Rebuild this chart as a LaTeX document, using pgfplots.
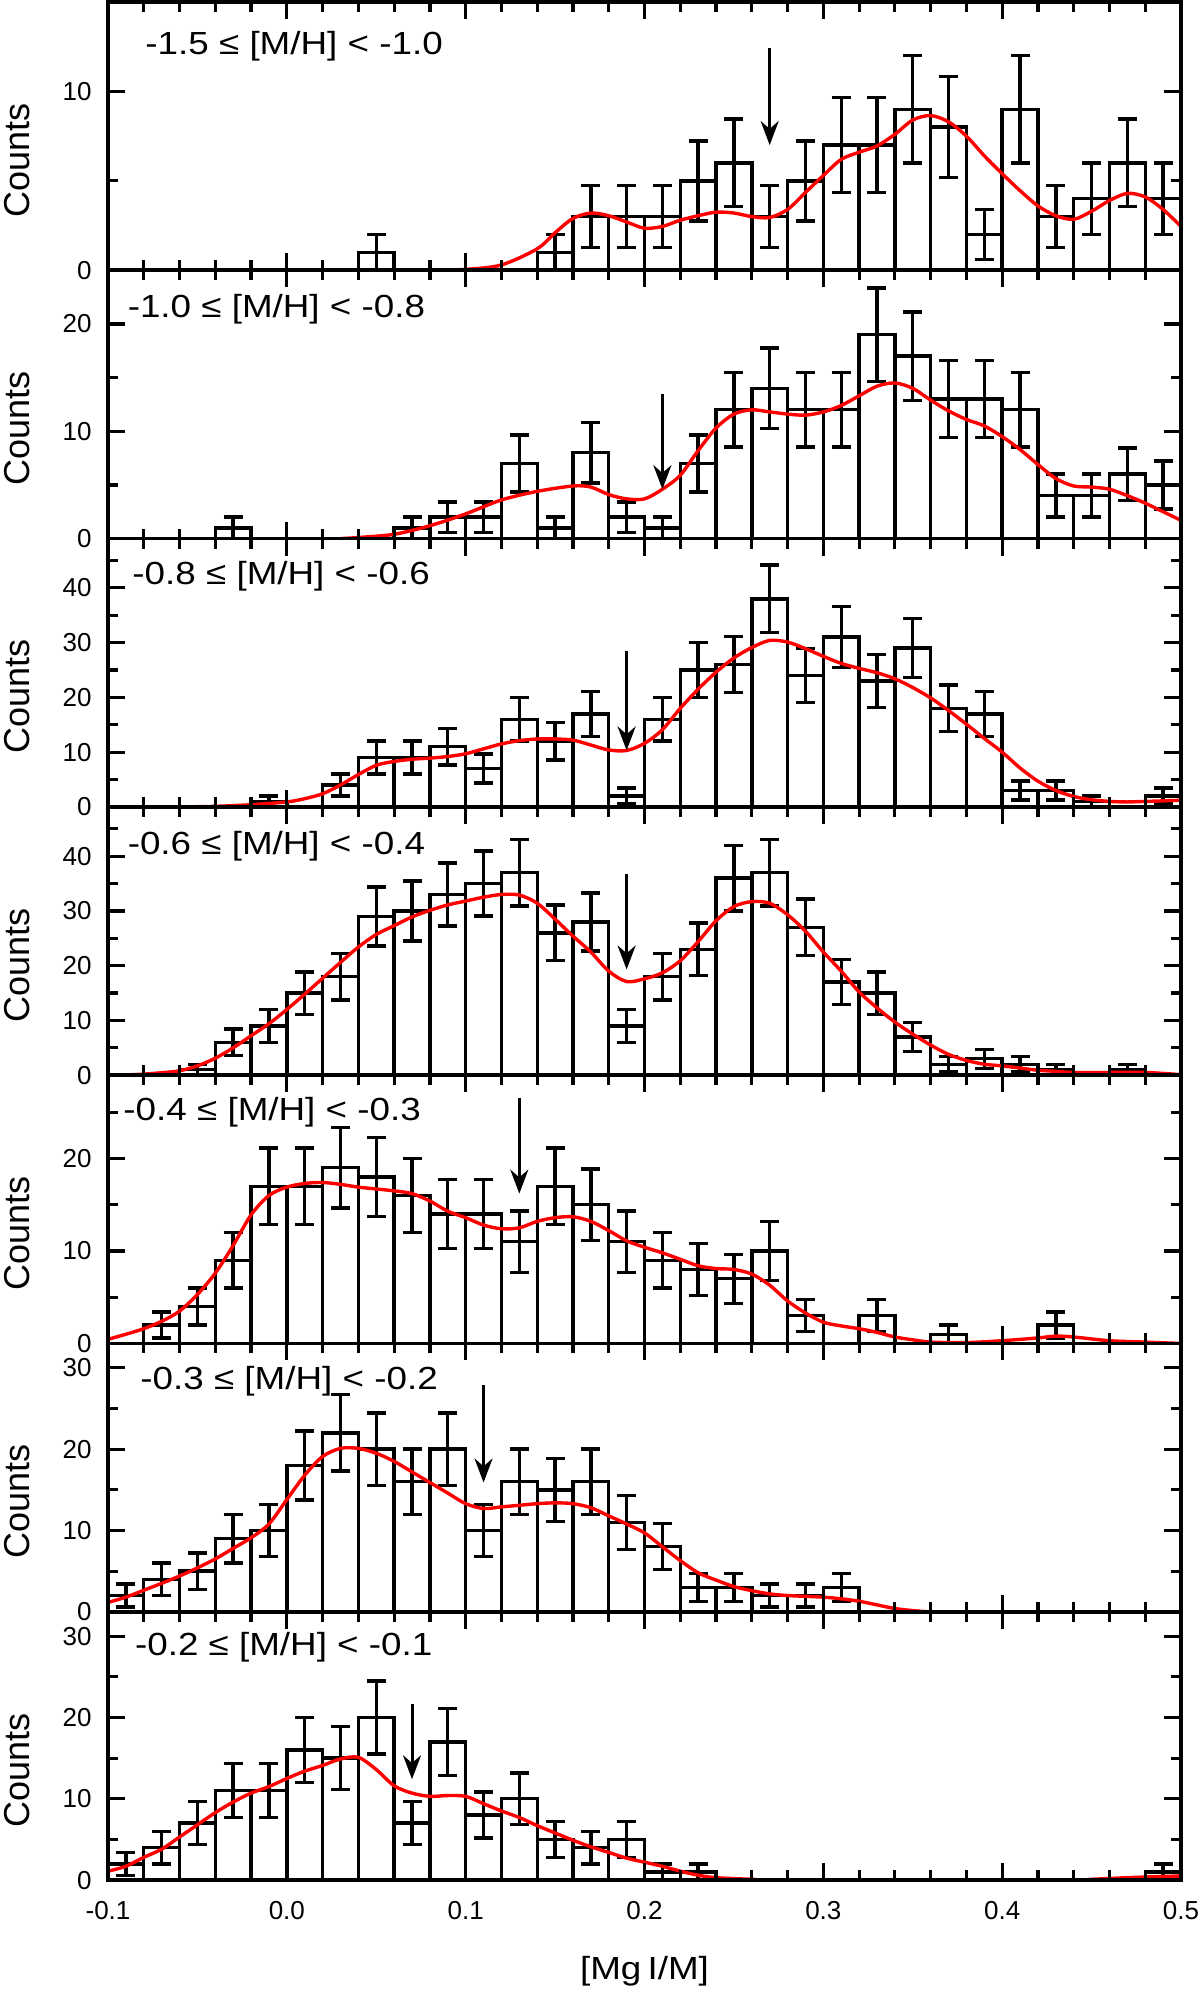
\documentclass[border=0pt]{standalone}
\usepackage{fontspec}
\setmainfont{Liberation Sans}
\usepackage{pgfplots}
\usepackage{pgfplotstable}
\pgfplotsset{compat=1.18}
\usetikzlibrary{arrows.meta}

\pgfplotsset{
  panel/.style={
    scale only axis, width=536.5pt, height=134.15pt,
    anchor=south west,
    xmin=-0.1, xmax=0.5, ymin=0,
    xtick={-0.1,0,0.1,0.2,0.3,0.4,0.5},
    minor x tick num=4,
    xticklabels={},
    axis on top,
    axis line style={line width=1.8pt},
    tick style={black, line width=1.6pt},
    major tick length=8.5pt, minor tick length=5pt,
    tick label style={font=\fontsize{13}{15}\selectfont},
    yticklabel style={xshift=-4.7pt},
    xticklabel style={yshift=-6.9pt},
    /pgf/number format/assume math mode=true,
    ylabel={Counts},
    ylabel style={at={(axis description cs:-0.0848,0.41)}, anchor=center,
      font=\fontsize{18}{21}\selectfont},
  },
  histbars/.style={ybar, bar width=0.02, bar shift=0pt, draw=black, fill=none,
    line width=1.7pt,
    error bars/.cd, y dir=both, y explicit,
    error bar style={line width=1.7pt, black},
    error mark options={rotate=90, black, line width=1.7pt, mark size=4.75pt}},
  kde/.style={red, line width=1.7pt, smooth, mark=none},
  arr/.style={black, line width=1.5pt, -{Stealth[length=12pt,width=9pt]}},
}
\tikzset{
  lab/.style={anchor=base west, inner sep=0pt, xscale=1.15,
    font=\fontsize{16}{19}\selectfont},
}

% histogram bins: centre, count, sqrt(count)
\pgfplotstableread{
c n e
0.05 1 1
0.15 1 1
0.17 3 1.732
0.19 3 1.732
0.21 3 1.732
0.23 5 2.236
0.25 6 2.449
0.27 3 1.732
0.29 5 2.236
0.31 7 2.646
0.33 7 2.646
0.35 9 3
0.37 8 2.828
0.39 2 1.414
0.41 9 3
0.43 3 1.732
0.45 4 2
0.47 6 2.449
0.49 4 2
}\hA
\pgfplotstableread{
c n e
-0.03 1 1
0.07 1 1
0.09 2 1.414
0.11 2 1.414
0.13 7 2.646
0.15 1 1
0.17 8 2.828
0.19 2 1.414
0.21 1 1
0.23 7 2.646
0.25 12 3.464
0.27 14 3.742
0.29 12 3.464
0.31 12 3.464
0.33 19 4.359
0.35 17 4.123
0.37 13 3.606
0.39 13 3.606
0.41 12 3.464
0.43 4 2
0.45 4 2
0.47 6 2.449
0.49 5 2.236
}\hB
\pgfplotstableread{
c n e
-0.01 1 1
0.03 4 2
0.05 9 3
0.07 9 3
0.09 11 3.317
0.11 7 2.646
0.13 16 4
0.15 12 3.464
0.17 17 4.123
0.19 2 1.414
0.21 16 4
0.23 25 5
0.25 26 5.099
0.27 38 6.164
0.29 24 4.899
0.31 31 5.568
0.33 23 4.796
0.35 29 5.385
0.37 18 4.243
0.39 17 4.123
0.41 3 1.732
0.43 3 1.732
0.45 1 1
0.49 2 1.414
}\hC
\pgfplotstableread{
c n e
-0.05 1 1
-0.03 6 2.449
-0.01 9 3
0.01 15 3.873
0.03 18 4.243
0.05 29 5.385
0.07 30 5.477
0.09 33 5.745
0.11 35 5.916
0.13 37 6.083
0.15 26 5.099
0.17 28 5.292
0.19 9 3
0.21 18 4.243
0.23 23 4.796
0.25 36 6
0.27 37 6.083
0.29 27 5.196
0.31 17 4.123
0.33 15 3.873
0.35 7 2.646
0.37 2 1.414
0.39 3 1.732
0.41 2 1.414
0.43 1 1
0.47 1 1
}\hD
\pgfplotstableread{
c n e
-0.07 2 1.414
-0.05 4 2
-0.03 9 3
-0.01 17 4.123
0.01 17 4.123
0.03 19 4.359
0.05 18 4.243
0.07 16 4
0.09 14 3.742
0.11 14 3.742
0.13 11 3.317
0.15 17 4.123
0.17 15 3.873
0.19 11 3.317
0.21 9 3
0.23 8 2.828
0.25 7 2.646
0.27 10 3.162
0.29 3 1.732
0.33 3 1.732
0.37 1 1
0.43 2 1.414
}\hE
\pgfplotstableread{
c n e
-0.09 2 1.414
-0.07 4 2
-0.05 5 2.236
-0.03 9 3
-0.01 10 3.162
0.01 18 4.243
0.03 22 4.690
0.05 20 4.472
0.07 16 4
0.09 20 4.472
0.11 10 3.162
0.13 16 4
0.15 15 3.873
0.17 16 4
0.19 11 3.317
0.21 8 2.828
0.23 3 1.732
0.25 3 1.732
0.27 2 1.414
0.29 2 1.414
0.31 3 1.732
}\hF
\pgfplotstableread{
c n e
-0.09 2 1.414
-0.07 4 2
-0.05 7 2.646
-0.03 11 3.317
-0.01 11 3.317
0.01 16 4
0.03 15 3.873
0.05 20 4.472
0.07 7 2.646
0.09 17 4.123
0.11 8 2.828
0.13 10 3.162
0.15 5 2.236
0.17 4 2
0.19 5 2.236
0.21 1 1
0.23 1 1
0.49 1 1
}\hG

\begin{document}
\begin{tikzpicture}
\path[use as bounding box] (0,0) rectangle (600pt,996pt);

% panel 1
\begin{axis}[panel, at={(54pt,860.85pt)}, ymax=15, ytick={0,10}, minor ytick={5}]
  \addplot[histbars] table[x=c, y=n, y error=e] {\hA};
  \addplot[kde] coordinates {
    (0.08,0) (0.10,0.05) (0.12,0.3) (0.14,1.2) (0.15,2.1) (0.16,2.9) (0.17,3.2)
    (0.18,3.05) (0.19,2.7) (0.20,2.35) (0.21,2.45) (0.22,2.8) (0.23,3.05)
    (0.24,3.25) (0.25,3.2) (0.26,3.0) (0.27,2.95) (0.28,3.4) (0.29,4.35)
    (0.30,5.3) (0.31,6.2) (0.32,6.6) (0.33,6.95) (0.34,7.6) (0.35,8.4)
    (0.36,8.65) (0.37,8.3) (0.38,7.5) (0.39,6.4) (0.40,5.4) (0.41,4.45)
    (0.42,3.6) (0.43,3.05) (0.44,2.85) (0.45,3.3) (0.46,3.9) (0.47,4.3)
    (0.48,4.1) (0.49,3.4) (0.50,2.45)};
  \addplot[arr] coordinates {(0.27,12.4) (0.27,7.0)};
  \node[lab] at (axis description cs:0.0345,0.8025) {-1.5 ≤ [M/H] < -1.0};
\end{axis}

% panel 2
\begin{axis}[panel, at={(54pt,726.7pt)}, ymax=25, ytick={0,10,20}, minor ytick={5,15}]
  \addplot[histbars] table[x=c, y=n, y error=e] {\hB};
  \addplot[kde] coordinates {
    (0.03,0) (0.04,0.1) (0.06,0.4) (0.08,1.2) (0.10,2.3) (0.12,3.6) (0.14,4.4)
    (0.16,4.9) (0.17,4.8) (0.18,4.1) (0.19,3.7) (0.20,3.7) (0.21,4.6)
    (0.22,5.9) (0.23,8.2) (0.24,10.3) (0.25,11.6) (0.26,12.0) (0.27,11.8)
    (0.28,11.6) (0.29,11.5) (0.30,11.8) (0.31,12.4) (0.32,13.3) (0.33,14.2)
    (0.34,14.5) (0.35,14.0) (0.36,12.9) (0.37,11.9) (0.38,11.1) (0.39,10.5)
    (0.40,9.5) (0.41,8.3) (0.42,6.9) (0.43,5.6) (0.44,4.9) (0.45,4.8)
    (0.46,4.6) (0.47,4.0) (0.48,3.3) (0.49,2.5) (0.50,1.7)};
  \addplot[arr] coordinates {(0.21,13.5) (0.21,4.6)};
  \node[lab] at (axis description cs:0.018,0.825) {-1.0 ≤ [M/H] < -0.8};
\end{axis}

% panel 3
\begin{axis}[panel, at={(54pt,592.55pt)}, ymax=49, ytick={0,10,20,30,40},
    minor ytick={5,15,25,35,45}]
  \addplot[histbars] table[x=c, y=n, y error=e] {\hC};
  \addplot[kde] coordinates {
    (-0.06,0) (-0.04,0.1) (-0.02,0.4) (0.00,0.9) (0.01,1.5) (0.02,2.4)
    (0.03,4.0) (0.04,5.9) (0.05,7.6) (0.06,8.3) (0.07,8.7) (0.08,8.9)
    (0.09,9.2) (0.10,9.7) (0.11,10.6) (0.12,11.5) (0.13,12.1) (0.14,12.4)
    (0.15,12.4) (0.16,12.2) (0.17,11.3) (0.18,10.4) (0.19,10.3) (0.20,11.6)
    (0.21,14.1) (0.22,18.0) (0.23,21.5) (0.24,24.6) (0.25,27.2) (0.26,29.1)
    (0.27,30.4) (0.28,30.1) (0.29,28.9) (0.30,27.5) (0.31,26.2) (0.32,25.3)
    (0.33,24.5) (0.34,23.4) (0.35,21.8) (0.36,19.9) (0.37,17.6) (0.38,15.1)
    (0.39,12.5) (0.40,10.0) (0.41,7.1) (0.42,4.7) (0.43,3.0) (0.44,1.9)
    (0.45,1.3) (0.46,1.0) (0.47,0.9) (0.48,1.0) (0.49,1.1) (0.50,1.2)};
  \addplot[arr] coordinates {(0.19,28.5) (0.19,10.3)};
  \node[lab] at (axis description cs:0.0224,0.8286) {-0.8 ≤ [M/H] < -0.6};
\end{axis}

% panel 4
\begin{axis}[panel, at={(54pt,458.4pt)}, ymax=49, ytick={0,10,20,30,40},
    minor ytick={5,15,25,35,45}]
  \addplot[histbars] table[x=c, y=n, y error=e] {\hD};
  \addplot[kde] coordinates {
    (-0.10,0) (-0.09,0.05) (-0.08,0.2) (-0.07,0.45) (-0.06,0.8) (-0.05,1.7)
    (-0.04,3.1) (-0.03,5.0) (-0.02,7.2) (-0.01,9.4) (0.00,12.0) (0.01,14.8)
    (0.02,17.7) (0.03,20.6) (0.04,23.4) (0.05,25.7) (0.06,27.3) (0.07,28.9)
    (0.08,30.1) (0.09,31.1) (0.10,31.8) (0.11,32.5) (0.12,33.0) (0.13,32.9)
    (0.14,31.4) (0.15,28.5) (0.16,25.4) (0.17,22.5) (0.18,19.0) (0.19,17.1)
    (0.20,17.6) (0.21,18.7) (0.22,20.9) (0.23,24.4) (0.24,28.2) (0.25,30.8)
    (0.26,31.7) (0.27,31.4) (0.28,29.3) (0.29,26.3) (0.30,22.5) (0.31,19.0)
    (0.32,15.2) (0.33,12.3) (0.34,9.7) (0.35,7.5) (0.36,5.5) (0.37,3.8)
    (0.38,2.7) (0.39,2.0) (0.40,1.7) (0.41,1.3) (0.42,0.9) (0.43,0.7)
    (0.44,0.5) (0.46,0.5) (0.48,0.5) (0.50,0.1)};
  \addplot[arr] coordinates {(0.19,36.8) (0.19,19.3)};
  \node[lab] at (axis description cs:0.018,0.8233) {-0.6 ≤ [M/H] < -0.4};
\end{axis}

% panel 5
\begin{axis}[panel, at={(54pt,324.25pt)}, ymax=29, ytick={0,10,20}, minor ytick={5,15,25}]
  \addplot[histbars] table[x=c, y=n, y error=e] {\hE};
  \addplot[kde] coordinates {
    (-0.10,0.45) (-0.09,1.0) (-0.08,1.6) (-0.07,2.4) (-0.06,3.5) (-0.05,5.3)
    (-0.04,7.6) (-0.03,10.6) (-0.02,13.9) (-0.01,16.0) (0.00,16.9) (0.01,17.3)
    (0.02,17.4) (0.03,17.2) (0.04,16.9) (0.05,16.7) (0.06,16.5) (0.07,16.2)
    (0.08,15.4) (0.09,14.3) (0.10,13.6) (0.11,12.8) (0.12,12.4) (0.13,12.5)
    (0.14,13.2) (0.15,13.6) (0.16,13.7) (0.17,13.2) (0.18,12.2) (0.19,11.1)
    (0.20,10.4) (0.21,9.8) (0.22,9.1) (0.23,8.4) (0.24,8.1) (0.25,8.0)
    (0.26,7.5) (0.27,6.3) (0.28,4.6) (0.29,3.3) (0.30,2.3) (0.31,1.9)
    (0.32,1.6) (0.33,1.2) (0.34,0.7) (0.35,0.4) (0.36,0.15) (0.38,0.1)
    (0.40,0.3) (0.42,0.6) (0.43,0.8) (0.44,0.7) (0.46,0.3) (0.48,0.15) (0.50,0)};
  \addplot[arr] coordinates {(0.13,26.5) (0.13,16.2)};
  \node[lab] at (axis description cs:0.014,0.832) {-0.4 ≤ [M/H] < -0.3};
\end{axis}

% panel 6
\begin{axis}[panel, at={(54pt,190.1pt)}, ymax=33, ytick={0,10,20,30}, minor ytick={5,15,25}]
  \addplot[histbars] table[x=c, y=n, y error=e] {\hF};
  \addplot[kde] coordinates {
    (-0.10,1.15) (-0.09,1.8) (-0.08,2.65) (-0.07,3.5) (-0.06,4.4) (-0.05,5.4)
    (-0.04,6.5) (-0.03,7.8) (-0.02,9.1) (-0.01,10.8) (0.00,13.8) (0.01,16.8)
    (0.02,19.1) (0.03,20.1) (0.04,20.1) (0.05,19.5) (0.06,18.5) (0.07,17.2)
    (0.08,15.9) (0.09,14.6) (0.10,13.3) (0.11,12.7) (0.12,12.9) (0.13,13.1)
    (0.14,13.3) (0.15,13.4) (0.16,13.3) (0.17,12.8) (0.18,11.8) (0.19,10.8)
    (0.20,9.7) (0.21,8.0) (0.22,6.3) (0.23,4.8) (0.24,3.9) (0.25,3.1)
    (0.26,2.6) (0.27,2.2) (0.28,2.0) (0.29,1.9) (0.30,1.8) (0.31,1.6)
    (0.32,1.3) (0.33,0.85) (0.34,0.4) (0.35,0.15) (0.36,0) (0.38,0)};
  \addplot[arr] coordinates {(0.11,27.9) (0.11,15.9)};
  \node[lab] at (axis description cs:0.0298,0.8286) {-0.3 ≤ [M/H] < -0.2};
\end{axis}

% panel 7
\begin{axis}[panel, at={(54pt,55.95pt)}, ymax=33, ytick={0,10,20,30}, minor ytick={5,15,25},
    xticklabels={-0.1,0.0,0.1,0.2,0.3,0.4,0.5}]
  \addplot[histbars] table[x=c, y=n, y error=e] {\hG};
  \addplot[kde] coordinates {
    (-0.10,1.1) (-0.09,1.7) (-0.08,2.8) (-0.07,3.8) (-0.06,5.3) (-0.05,6.8)
    (-0.04,8.3) (-0.03,9.6) (-0.02,10.7) (-0.01,11.5) (0.00,12.5) (0.01,13.4)
    (0.02,14.1) (0.03,14.9) (0.04,15.1) (0.05,13.6) (0.06,11.6) (0.07,10.7)
    (0.08,10.3) (0.09,10.4) (0.10,10.3) (0.11,9.4) (0.12,8.5) (0.13,7.7)
    (0.14,6.7) (0.15,5.8) (0.16,4.9) (0.17,4.1) (0.18,3.4) (0.19,2.7)
    (0.20,2.2) (0.21,1.7) (0.22,1.1) (0.23,0.6) (0.24,0.3) (0.26,0.1)
    (0.28,0) (0.44,0) (0.45,0.1) (0.47,0.3) (0.49,0.45) (0.50,0.5)};
  \addplot[arr] coordinates {(0.07,21.6) (0.07,12.4)};
  \node[lab] at (axis description cs:0.0248,0.836) {-0.2 ≤ [M/H] < -0.1};
\end{axis}

\node[anchor=base, inner sep=0pt, xscale=1.15, font=\fontsize{16}{19}\selectfont]
  at (322.25pt,6pt) {[Mg\,I/M]};
\end{tikzpicture}
\end{document}
